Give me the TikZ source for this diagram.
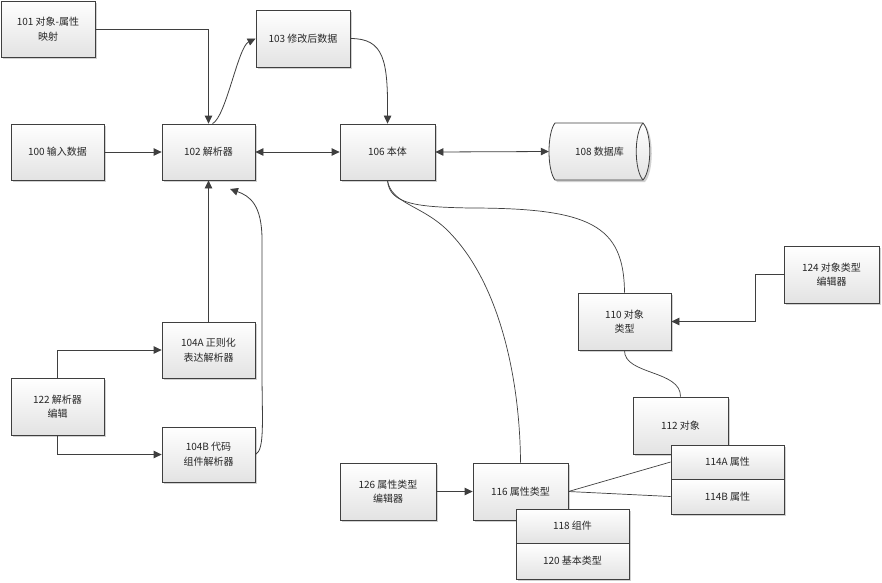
\documentclass[tikz,border=0pt]{standalone}
\usepackage{fontspec}
\setmainfont{Noto Sans CJK SC}
\usetikzlibrary{arrows.meta,shadows,calc}
\definecolor{lc}{HTML}{3F3F3F}
\begin{document}
\begin{tikzpicture}[x=1pt,y=-1pt,
  font=\fontsize{10}{14.5}\selectfont,
  box/.style={draw=lc, line width=0.8pt, top color=white, bottom color=black!11,
    drop shadow={shadow xshift=2pt, shadow yshift=-2pt, fill=black!18, opacity=1},
    inner sep=2pt, align=center, text=black!85},
  arr/.style={draw=lc, line width=0.8pt, -{Triangle[length=8pt,width=7.5pt]}},
  darr/.style={draw=lc, line width=0.8pt, {Triangle[length=8pt,width=7.5pt]}-{Triangle[length=8pt,width=7.5pt]}},
  ln/.style={draw=lc, line width=0.7pt}]
\useasboundingbox (0,0) rectangle (882,582);
\fill[white] (0,0) rectangle (882,582);

% boxes
\node[box, minimum width=94pt, minimum height=56pt] (b101) at (48,29) {101 对象-属性\\映射};
\node[box, minimum width=94pt, minimum height=57pt] (b103) at (303,38.5) {103 修改后数据};
\node[box, minimum width=93pt, minimum height=56pt] (b100) at (57.5,152) {100 输入数据};
\node[box, minimum width=93pt, minimum height=56pt] (b102) at (208.5,152) {102 解析器};
\node[box, minimum width=95pt, minimum height=56pt] (b106) at (387.5,152) {106 本体};
\node[box, minimum width=93pt, minimum height=56pt] (b104a) at (208.5,350) {104A 正则化\\表达解析器};
\node[box, minimum width=93pt, minimum height=57pt] (b122) at (57.5,406.5) {122 解析器\\编辑};
\node[box, minimum width=93pt, minimum height=55pt] (b104b) at (208.5,454.5) {104B 代码\\组件解析器};
\node[box, minimum width=93pt, minimum height=57pt] (b110) at (624.5,321.5) {110 对象\\类型};
\node[box, minimum width=95pt, minimum height=57pt] (b124) at (831.5,274.5) {124 对象类型\\编辑器};
\node[box, minimum width=96pt, minimum height=57pt] (b126) at (388,491.5) {126 属性类型\\编辑器};
\node[box, minimum width=95pt, minimum height=57pt] (b116) at (520.5,491.5) {116 属性类型};
\node[box, minimum width=113pt, minimum height=34pt] (b118) at (572.5,526) {118 组件};
\node[box, minimum width=113pt, minimum height=36pt] (b120) at (572.5,561) {120 基本类型};
\node[box, minimum width=95pt, minimum height=57pt] (b112) at (680.5,425.5) {112 对象};
\node[box, minimum width=113pt, minimum height=34pt] (b114a) at (727.5,462) {114A 属性};
\node[box, minimum width=113pt, minimum height=35pt] (b114b) at (727.5,496.5) {114B 属性};

% database cylinder
\fill[black!18] (557,125) -- (645,125) .. controls (654,135) and (654,172) .. (645,182) -- (557,182) .. controls (549,172) and (549,135) .. (557,125) -- cycle;
\path[draw=lc, line width=0.8pt, top color=white, bottom color=black!11]
  (555,123) -- (643,123) .. controls (652,133) and (652,170) .. (643,180) -- (555,180)
  .. controls (547,170) and (547,133) .. (555,123) -- cycle;
\draw[lc, line width=0.8pt] (643,123) .. controls (634,133) and (634,170) .. (643,180);
\node[minimum width=101pt, minimum height=57pt, inner sep=0pt, text=black!85] (db) at (599.5,151.5) {108 数据库};

% connectors
\coordinate (t104b) at (230,189);
\draw[arr] (b101.east) -| (b102.north);
\draw[arr] ($(b102.north)+(4,0)$) .. controls (226,117) and (238,47) .. (b103.west);
\draw[arr] (b103.east) .. controls (384,38.5) and (388,60) .. (b106.north);
\draw[arr] (b100.east) -- (b102.west);
\draw[darr] (b102.east) -- (b106.west);
\draw[darr] (b106.east) -- (db.west);
\draw[arr] (b104a.north) -- (b102.south);
\draw[arr] (b104b.east) .. controls (265,450) and (262,420) .. (262,370)
  -- (262,240) .. controls (262,205) and (250,196) .. (t104b);
\draw[arr] (b122.north) |- (b104a.west);
\draw[arr] (b122.south) |- (b104b.west);
\draw[arr] (b124.west) -- ++(-28,0) |- (b110.east);
\draw[arr] (b126.east) -- (b116.west);
\draw[ln] (b106.south) .. controls (389,205) and (420,207) .. (470,208)
  .. controls (590,208) and (624,225) .. (b110.north);
\draw[ln] (b106.south) .. controls (391,203) and (420,205) .. (445,228)
  .. controls (500,280) and (520,380) .. (b116.north);
\draw[ln] (b110.south) .. controls (624,375) and (681,370) .. (b112.north);
\draw[ln] (b116.east) -- (b114a.west);
\draw[ln] (b116.east) -- (b114b.west);
\end{tikzpicture}
\end{document}
